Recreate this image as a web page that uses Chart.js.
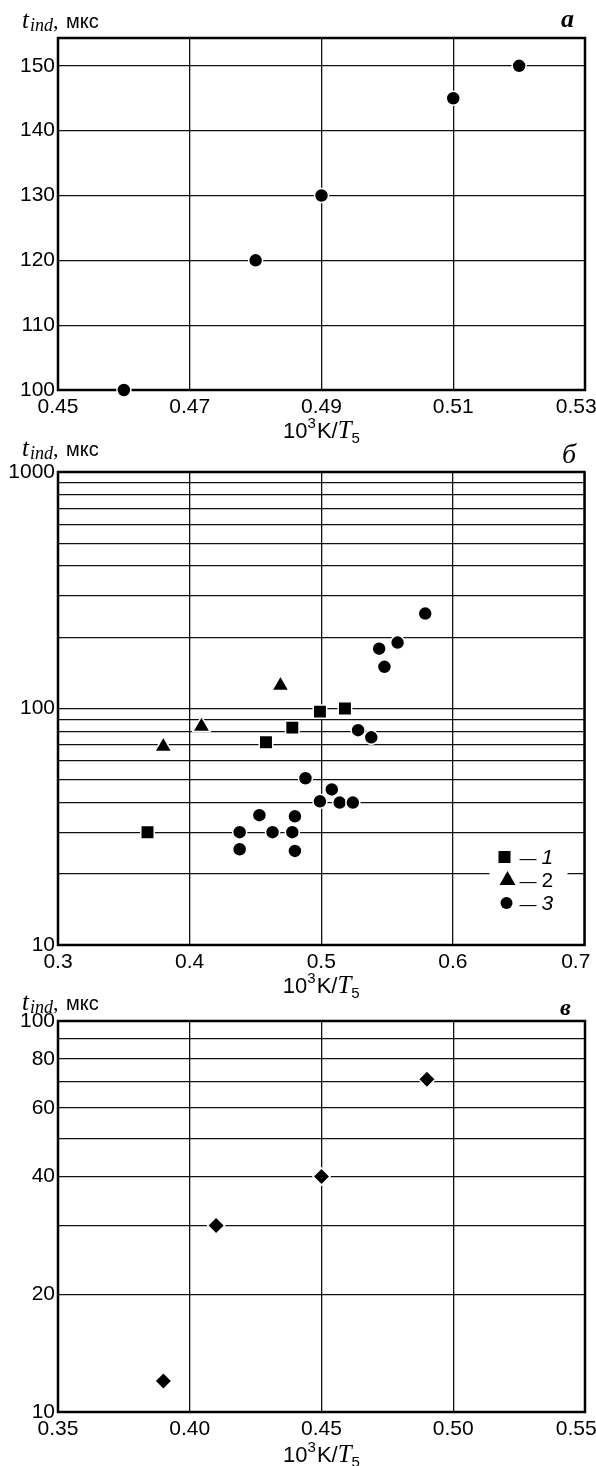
<!DOCTYPE html>
<html>
<head>
<meta charset="utf-8">
<script src="https://cdn.jsdelivr.net/npm/chart.js@4.4.0/dist/chart.umd.min.js"></script>
<style>
html, body { margin: 0; padding: 0; background: #fff; }
body { width: 596px; height: 1466px; position: relative; overflow: hidden; }
canvas { position: absolute; left: 0; }
</style>
</head>
<body>
<canvas id="chartA" width="596" height="450" style="top:0px"></canvas>
<canvas id="chartB" width="596" height="560" style="top:440px"></canvas>
<canvas id="chartC" width="596" height="476" style="top:990px"></canvas>
<script>
// panel a
const aX = [0.46, 0.48, 0.49, 0.51, 0.52];
const aY = [100, 120, 130, 145, 150];
const aXTicks = [0.45, 0.47, 0.49, 0.51, 0.53];
const aYTicks = [100, 110, 120, 130, 140, 150];

// panel б
const b1X = [0.368, 0.458, 0.478, 0.499, 0.518];
const b1Y = [30, 72, 83, 97, 100];
const b2X = [0.38, 0.409, 0.469];
const b2Y = [69, 84, 125];
const b3X = [0.438, 0.48, 0.438, 0.463, 0.478, 0.453, 0.48, 0.499, 0.514, 0.524, 0.508, 0.488, 0.528, 0.538, 0.548, 0.544, 0.558, 0.579];
const b3Y = [25.4, 25, 30, 30, 30, 35.4, 35, 40.5, 40, 40, 45.5, 50.7, 81, 75.5, 150, 179, 190, 252];
const bXTicks = [0.3, 0.4, 0.5, 0.6, 0.7];
const bYGrid = [10, 20, 30, 40, 50, 60, 70, 80, 90, 100, 200, 300, 400, 500, 600, 700, 800, 900, 1000];
const bYLabels = [10, 100, 1000];
const bLegend = ['1', '2', '3'];

// panel в
const cX = [0.39, 0.41, 0.45, 0.49];
const cY = [12, 30, 40, 71];
const cXTicks = [0.35, 0.40, 0.45, 0.50, 0.55];
const cYGrid = [10, 20, 30, 40, 50, 60, 70, 80, 90, 100];
const cYLabels = [10, 20, 40, 60, 80, 100];

const SANS = '"Liberation Sans", Arial, sans-serif';
const SERIF = '"Liberation Serif", "Times New Roman", serif';

function pts(xs, ys) {
    return xs.map((x, i) => ({ x: x, y: ys[i] }));
}

function drawParts(ctx, x, y, parts, center) {
    let w = 0;
    parts.forEach(p => { ctx.font = p.font; w += ctx.measureText(p.text).width + (p.gap || 0); });
    let cx = center ? x - w / 2 : x;
    parts.forEach(p => {
        ctx.font = p.font;
        ctx.fillText(p.text, cx, y + (p.dy || 0));
        cx += ctx.measureText(p.text).width + (p.gap || 0);
    });
}

const yTitle = [
    { text: 't', font: 'italic 25px ' + SERIF, gap: 1 },
    { text: 'ind', font: 'italic 18px ' + SERIF, dy: 3 },
    { text: ', ', font: '22px ' + SERIF, gap: 2 },
    { text: 'мкс', font: '20px ' + SANS }
];
const xTitle = [
    { text: '10', font: '22px ' + SANS },
    { text: '3', font: '15px ' + SANS, dy: -10, gap: 1 },
    { text: 'K/', font: '22px ' + SANS },
    { text: 'T', font: 'italic 25px ' + SERIF },
    { text: '5', font: '15px ' + SANS, dy: 5 }
];

const framePlugin = {
    id: 'frame',
    beforeDatasetsDraw(chart) {
        const a = chart.chartArea, ctx = chart.ctx;
        ctx.save();
        ctx.strokeStyle = '#000';
        ctx.lineWidth = 2.5;
        ctx.strokeRect(a.left, a.top, a.right - a.left, a.bottom - a.top);
        ctx.restore();
    }
};

const labelsPlugin = {
    id: 'labels',
    afterDraw(chart, args, opts) {
        const a = chart.chartArea, ctx = chart.ctx;
        ctx.save();
        ctx.fillStyle = '#000';
        ctx.textBaseline = 'alphabetic';
        ctx.textAlign = 'left';
        drawParts(ctx, 22, opts.titleY, yTitle, false);
        drawParts(ctx, (a.left + a.right) / 2, opts.xLabelY, xTitle, true);
        ctx.font = opts.letterFont;
        ctx.fillText(opts.letter, opts.letterX, opts.letterY);

        if (opts.legend) {
            const lx = a.right - 95, ly = a.bottom - 105;
            ctx.fillStyle = '#fff';
            ctx.fillRect(lx, ly, 78, 78);
            ctx.fillStyle = '#000';
            const mx = lx + 15;
            // square
            ctx.fillRect(mx - 6, ly + 17 - 6, 12, 12);
            // triangle
            ctx.beginPath();
            ctx.moveTo(mx + 3, ly + 31);
            ctx.lineTo(mx + 11, ly + 45);
            ctx.lineTo(mx - 5, ly + 45);
            ctx.closePath();
            ctx.fill();
            // circle
            ctx.beginPath();
            ctx.arc(mx + 2, ly + 63, 6, 0, Math.PI * 2);
            ctx.fill();
            const fonts = ['italic 21px ' + SANS, '21px ' + SANS, 'italic 21px ' + SANS];
            bLegend.forEach((t, i) => {
                ctx.font = '17px ' + SANS;
                ctx.fillText('\u2014', lx + 30, ly + 24 + i * 23);
                ctx.font = fonts[i];
                ctx.fillText(t, lx + 52, ly + 24 + i * 23);
            });
        }
        ctx.restore();
    }
};

function makeChart(id, datasets, cfg) {
    const canvas = document.getElementById(id);
    const H = canvas.height;
    new Chart(canvas.getContext('2d'), {
        type: 'scatter',
        data: { datasets: datasets },
        options: {
            responsive: false,
            animation: false,
            devicePixelRatio: 1,
            layout: { padding: { left: 0, right: 11, top: cfg.top, bottom: 0 } },
            plugins: {
                legend: { display: false },
                tooltip: { enabled: false },
                labels: cfg.labels
            },
            scales: {
                x: {
                    type: 'linear',
                    min: cfg.xTicks[0],
                    max: cfg.xTicks[cfg.xTicks.length - 1],
                    afterBuildTicks: s => { s.ticks = cfg.xTicks.map(v => ({ value: v })); },
                    afterFit: s => {
                        s.height = H - cfg.bottom;
                        s.paddingLeft = 0;
                        s.paddingRight = 0;
                    },
                    ticks: {
                        autoSkip: false,
                        maxRotation: 0,
                        padding: 5,
                        color: '#000',
                        font: { family: SANS, size: 21 },
                        // last label pushed left so it stays inside the page
                        callback: (v, i, t) => v.toFixed(cfg.xDec) + (i === t.length - 1 ? '   ' : '')
                    },
                    grid: { color: '#111', lineWidth: 1.3, drawTicks: false },
                    border: { display: false }
                },
                y: {
                    type: cfg.yType,
                    min: cfg.yMin,
                    max: cfg.yMax,
                    afterBuildTicks: s => { s.ticks = cfg.yGrid.map(v => ({ value: v })); },
                    afterFit: s => {
                        s.width = 58;
                        s.paddingTop = 0;
                        s.paddingBottom = 0;
                    },
                    ticks: {
                        autoSkip: false,
                        padding: 3,
                        color: '#000',
                        font: { family: SANS, size: 21 },
                        callback: v => cfg.yLabels.includes(v) ? String(v) : ''
                    },
                    grid: { color: '#111', lineWidth: 1.3, drawTicks: false },
                    border: { display: false }
                }
            }
        },
        plugins: [framePlugin, labelsPlugin]
    });
}

function series(data, style, r) {
    return {
        data: data,
        pointStyle: style,
        pointRadius: r,
        backgroundColor: '#000',
        borderColor: '#fff',
        borderWidth: 1.5,
        showLine: false,
        clip: false
    };
}

makeChart('chartA', [series(pts(aX, aY), 'circle', 7)], {
    top: 38, bottom: 390, xTicks: aXTicks, xDec: 2,
    yType: 'linear', yMin: 100, yMax: 154.3, yGrid: aYTicks, yLabels: aYTicks,
    labels: { titleY: 28, xLabelY: 438, letter: 'a', letterX: 561, letterY: 27,
              letterFont: 'bold italic 26px ' + SERIF }
});

makeChart('chartB', [
    series(pts(b1X, b1Y), 'rect', 9.5),
    series(pts(b2X, b2Y), 'triangle', 10),
    series(pts(b3X, b3Y), 'circle', 7)
], {
    top: 32, bottom: 505, xTicks: bXTicks, xDec: 1,
    yType: 'logarithmic', yMin: 10, yMax: 1000, yGrid: bYGrid, yLabels: bYLabels,
    labels: { titleY: 16, xLabelY: 553, letter: 'б', letterX: 562, letterY: 23,
              letterFont: 'italic 28px ' + SERIF, legend: true }
});

makeChart('chartC', [series(pts(cX, cY), 'rectRot', 8.5)], {
    top: 31, bottom: 422, xTicks: cXTicks, xDec: 2,
    yType: 'logarithmic', yMin: 10, yMax: 100, yGrid: cYGrid, yLabels: cYLabels,
    labels: { titleY: 20, xLabelY: 472, letter: 'в', letterX: 560, letterY: 25,
              letterFont: 'bold italic 24px ' + SERIF }
});
</script>
</body>
</html>
